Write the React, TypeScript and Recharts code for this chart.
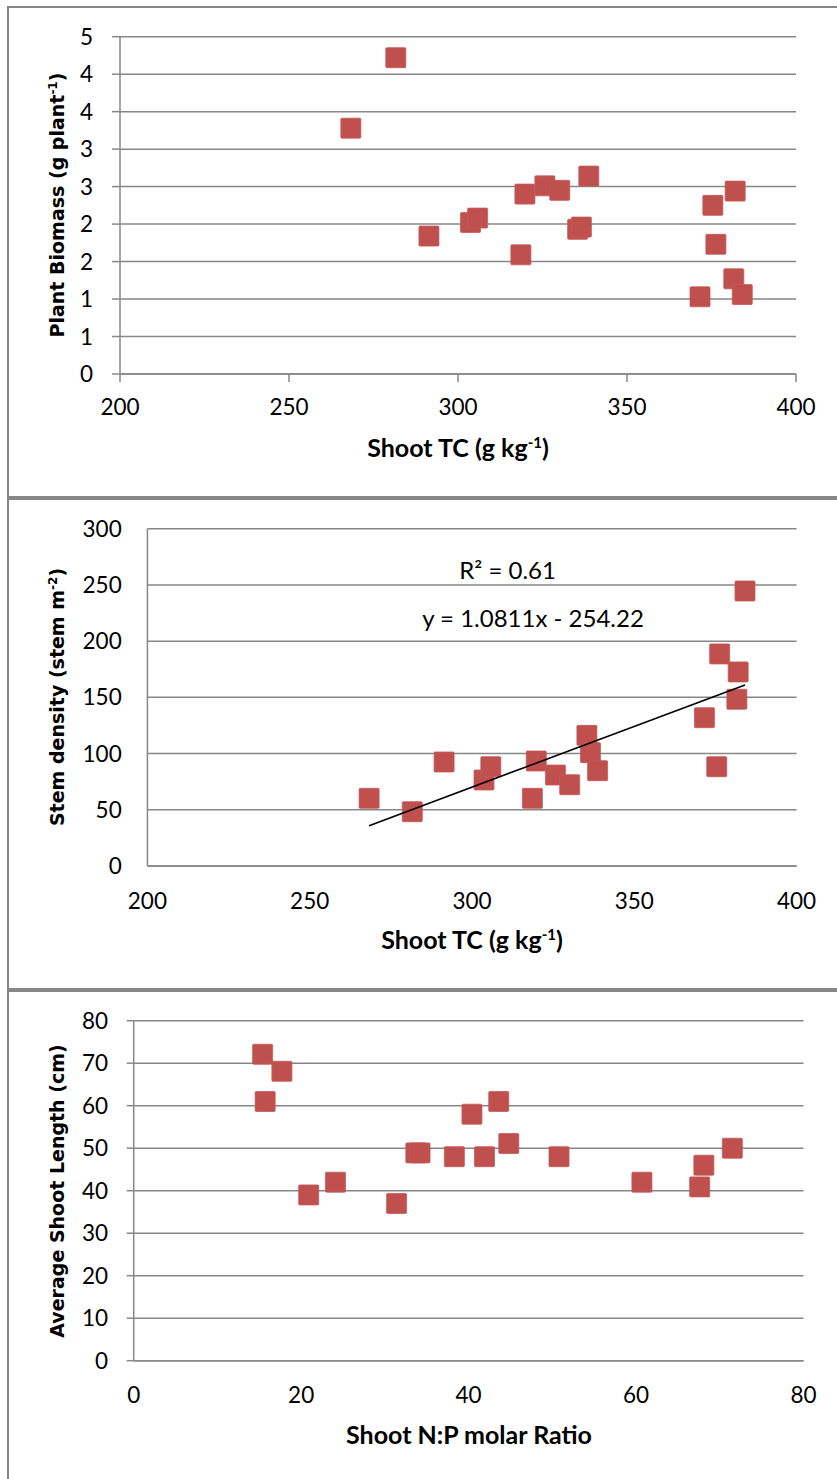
import React from 'react';
import { ScatterChart, Scatter, XAxis, YAxis, CartesianGrid } from 'recharts';

// ---- Data ----
const shootTC = [268.3, 281.6, 291.4, 303.7, 305.8, 318.6, 319.8, 325.7, 330.1, 335.4, 336.5, 338.7, 371.6, 375.4, 376.3, 381.6, 382.0, 384.1];
const plantBiomass = [3.28, 4.22, 1.84, 2.02, 2.08, 1.59, 2.40, 2.51, 2.45, 1.93, 1.96, 2.64, 1.03, 2.25, 1.73, 1.27, 2.44, 1.06];
const stemDensity = [60.2, 48.3, 92.5, 76.5, 88.3, 60.2, 93.4, 80.9, 72.3, 116.2, 100.8, 84.8, 131.9, 88.3, 188.6, 148.3, 172.6, 244.6];
const shootNP = [15.4, 15.7, 17.7, 20.9, 24.1, 31.4, 33.7, 34.2, 38.3, 40.4, 41.9, 43.6, 44.8, 50.8, 60.7, 67.6, 68.1, 71.5];
const shootLength = [72.1, 61.0, 68.1, 39.0, 42.0, 37.0, 48.9, 48.9, 48.0, 58.0, 48.0, 61.0, 51.1, 48.0, 42.0, 40.9, 46.0, 50.0];

const tcTicks = [200, 250, 300, 350, 400];
const biomassTicks = [0, 0.5, 1, 1.5, 2, 2.5, 3, 3.5, 4, 4.5];
const stemTicks = [0, 50, 100, 150, 200, 250, 300];
const npTicks = [0, 20, 40, 60, 80];
const lengthTicks = [0, 10, 20, 30, 40, 50, 60, 70, 80];

const trendSlope = 1.0811;
const trendIntercept = -254.22;
const rSquared = 0.61;

// ---- Styles ----
const GRID = '#878787';
const MARKER = '#C0504D';
const TICK_FONT = { fill: '#000', fontSize: 22.5, fontFamily: 'Lato, "Liberation Sans", sans-serif' };
const XTITLE_FONT = 'Lato, "Liberation Sans", sans-serif';
const YTITLE_FONT = '"DejaVu Sans", Verdana, sans-serif';

const p1Data = shootTC.map((x, i) => ({ x, y: plantBiomass[i] }));
const p2Data = shootTC.map((x, i) => ({ x, y: stemDensity[i] }));
const p3Data = shootNP.map((x, i) => ({ x, y: shootLength[i] }));
const tMin = Math.min(...shootTC);
const tMax = Math.max(...shootTC);
const trendData = [
  { x: tMin, y: trendSlope * tMin + trendIntercept },
  { x: tMax, y: trendSlope * tMax + trendIntercept },
];

const Square = (props: any) => {
  const { cx, cy } = props;
  if (cx == null || cy == null) return <g />;
  return <rect x={cx - 10} y={cy - 10} width={20} height={20} rx={1} fill={MARKER} stroke="#c4595a" strokeWidth={0.8} />;
};

const Empty = () => <g />;

const axisLine = { stroke: GRID, strokeWidth: 1.5 };
const tickLine = { stroke: GRID, strokeWidth: 1.5 };

const panelBorder = (top: number, height: number): React.CSSProperties => ({
  position: 'absolute',
  left: 7,
  top,
  width: 900,
  height,
  border: `2px solid ${GRID}`,
  boxSizing: 'border-box',
});

export default function App() {
  return (
    <div style={{ position: 'absolute', left: 0, top: 0, width: 837, height: 1479, overflow: 'hidden', background: '#fff' }}>
      <div style={panelBorder(6, 492)} />
      <div style={panelBorder(498, 492)} />
      <div style={panelBorder(990, 600)} />

      {/* Panel 1 */}
      <div style={{ position: 'absolute', left: 0, top: 0 }}>
        <ScatterChart width={837} height={498} margin={{ top: 36.7, right: 41, left: 80, bottom: 84 }}>
          <CartesianGrid horizontal vertical={false} stroke={GRID} strokeWidth={1.5} />
          <XAxis type="number" dataKey="x" domain={[200, 400]} ticks={tcTicks} interval={0} height={40}
            axisLine={axisLine} tickLine={tickLine} tickSize={8} tickMargin={17} tick={TICK_FONT} allowDataOverflow />
          <YAxis type="number" dataKey="y" domain={[0, 4.5]} ticks={biomassTicks} interval={0} width={40}
            tickFormatter={(v: number) => String(Math.round(v))}
            axisLine={axisLine} tickLine={tickLine} tickSize={8} tickMargin={19} tick={TICK_FONT} allowDataOverflow />
          <Scatter data={p1Data} fill={MARKER} shape={Square} isAnimationActive={false} />
        </ScatterChart>
      </div>

      {/* Panel 2 */}
      <div style={{ position: 'absolute', left: 0, top: 498 }}>
        <ScatterChart width={837} height={492} margin={{ top: 30.7, right: 40.4, left: 107.4, bottom: 84 }}>
          <CartesianGrid horizontal vertical={false} stroke={GRID} strokeWidth={1.5} />
          <XAxis type="number" dataKey="x" domain={[200, 400]} ticks={tcTicks} interval={0} height={40}
            axisLine={axisLine} tickLine={false} tickSize={0} tickMargin={27} tick={TICK_FONT} allowDataOverflow />
          <YAxis type="number" dataKey="y" domain={[0, 300]} ticks={stemTicks} interval={0} width={40}
            axisLine={axisLine} tickLine={false} tickSize={0} tickMargin={25.7} tick={TICK_FONT} allowDataOverflow />
          <Scatter data={p2Data} fill={MARKER} shape={Square} isAnimationActive={false} />
          <Scatter data={trendData} shape={Empty} line={{ stroke: '#000', strokeWidth: 1.6 }} isAnimationActive={false} />
        </ScatterChart>
      </div>

      {/* Panel 3 */}
      <div style={{ position: 'absolute', left: 0, top: 990 }}>
        <ScatterChart width={837} height={489} margin={{ top: 30.7, right: 33.5, left: 93.7, bottom: 78.3 }}>
          <CartesianGrid horizontal vertical={false} stroke={GRID} strokeWidth={1.5} />
          <XAxis type="number" dataKey="x" domain={[0, 80]} ticks={npTicks} interval={0} height={40}
            axisLine={axisLine} tickLine={false} tickSize={0} tickMargin={26} tick={TICK_FONT} allowDataOverflow />
          <YAxis type="number" dataKey="y" domain={[0, 80]} ticks={lengthTicks} interval={0} width={40}
            axisLine={axisLine} tickLine={tickLine} tickSize={7} tickMargin={18.7} tick={TICK_FONT} allowDataOverflow />
          <Scatter data={p3Data} fill={MARKER} shape={Square} isAnimationActive={false} />
        </ScatterChart>
      </div>

      {/* Titles and annotations */}
      <svg width={837} height={1479} style={{ position: 'absolute', left: 0, top: 0, pointerEvents: 'none' }}>
        {/* Panel 1 */}
        <text x={458} y={456.5} textAnchor="middle" fontFamily={XTITLE_FONT} fontWeight="bold" fontSize={25} fill="#000">
          Shoot TC (g kg<tspan dy={-9} fontSize={15}>-1</tspan><tspan dy={9}>)</tspan>
        </text>
        <text transform="translate(64,205) rotate(-90)" textAnchor="middle" fontFamily={YTITLE_FONT} fontWeight="bold" fontSize={19} fill="#000">
          Plant Biomass (g plant<tspan dy={-7} fontSize={12}>-1</tspan><tspan dy={7}>)</tspan>
        </text>

        {/* Panel 2 */}
        <text x={472} y={949} textAnchor="middle" fontFamily={XTITLE_FONT} fontWeight="bold" fontSize={25} fill="#000">
          Shoot TC (g kg<tspan dy={-9} fontSize={15}>-1</tspan><tspan dy={9}>)</tspan>
        </text>
        <text transform="translate(64,697) rotate(-90)" textAnchor="middle" fontFamily={YTITLE_FONT} fontWeight="bold" fontSize={19} fill="#000">
          Stem density (stem m<tspan dy={-7} fontSize={12}>-2</tspan><tspan dy={7}>)</tspan>
        </text>
        <text x={507.6} y={579.3} textAnchor="middle" fontFamily={XTITLE_FONT} fontSize={24} fill="#000">
          {`R² = ${rSquared.toFixed(2)}`}
        </text>
        <text x={533} y={627} textAnchor="middle" fontFamily={XTITLE_FONT} fontSize={24} fill="#000">
          {`y = ${trendSlope}x - ${Math.abs(trendIntercept)}`}
        </text>

        {/* Panel 3 */}
        <text x={469} y={1444} textAnchor="middle" fontFamily={XTITLE_FONT} fontWeight="bold" fontSize={25} fill="#000">
          Shoot N:P molar Ratio
        </text>
        <text transform="translate(64,1191) rotate(-90)" textAnchor="middle" fontFamily={YTITLE_FONT} fontWeight="bold" fontSize={19} fill="#000">
          Average Shoot Length (cm)
        </text>
      </svg>
    </div>
  );
}
